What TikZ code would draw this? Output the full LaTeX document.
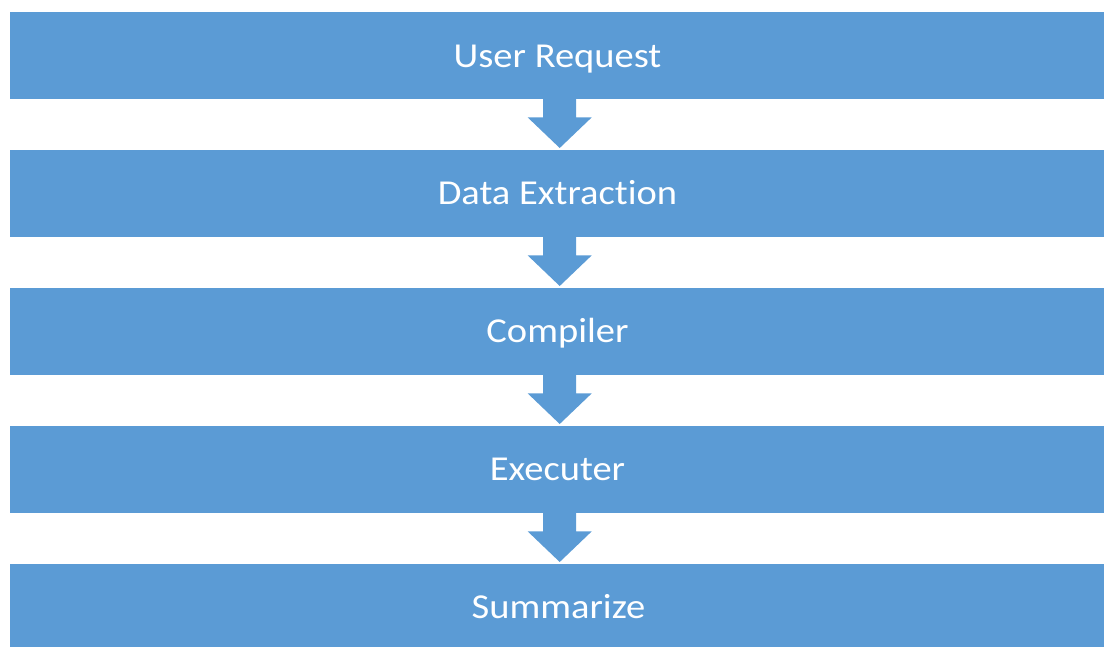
\documentclass[tikz,border=0pt]{standalone}
\usepackage{fontspec}
\setmainfont[Ligatures=NoCommon, FakeStretch=1.1]{Carlito}
\usetikzlibrary{calc}
\definecolor{stageblue}{HTML}{5B9BD5}
\tikzset{
  stagebox/.style={fill=stageblue, draw=none, rectangle, minimum width=1100pt,
    minimum height=87pt, inner sep=0pt, anchor=north west},
  stagelabel/.style={text=white, font=\fontsize{35}{42}\selectfont,
    text height=22.5pt, text depth=0pt, inner sep=0pt},
  flowarrow/.style={fill=stageblue, draw=none}
}
\begin{document}
\begin{tikzpicture}[x=1pt,y=-1pt]
  \useasboundingbox (0,0) rectangle (1104,646);
  \clip (0,0) rectangle (1104,646);
  % pipeline stages, top to bottom
  \node[stagebox] (req)  at (10,12)  {};
  \node[stagebox] (ext)  at (10,150) {};
  \node[stagebox] (comp) at (10,288) {};
  \node[stagebox] (exec) at (10,426) {};
  \node[stagebox] (sum)  at (10,564) {};
  % stage labels, centred on the visible part of each band
  \node[stagelabel] (reqt)  at (557.5,56)  {User Request};
  \node[stagelabel] (extt)  at (557.5,193) {Data Extraction};
  \node[stagelabel] (compt) at (557.5,331) {Compiler};
  \node[stagelabel] (exect) at (557.5,469) {Executer};
  \node[stagelabel] (sumt)  at (558.5,607) {Summarize};
  % block arrows between consecutive stages
  \foreach \a/\b in {req/ext, ext/comp, comp/exec, exec/sum} {
    \coordinate (s) at ($(\a.south)+(-0.5,0)$);
    \coordinate (t) at ($(\b.north)+(-0.5,0)$);
    \fill[flowarrow] ($(s)+(-16.5,-1)$) -- ($(s)+(-16.5,18)$) -- ($(s)+(-32,18)$)
      -- ($(t)+(0,-2)$) -- ($(s)+(32,18)$) -- ($(s)+(16.5,18)$) -- ($(s)+(16.5,-1)$) -- cycle;
  }
\end{tikzpicture}
\end{document}
